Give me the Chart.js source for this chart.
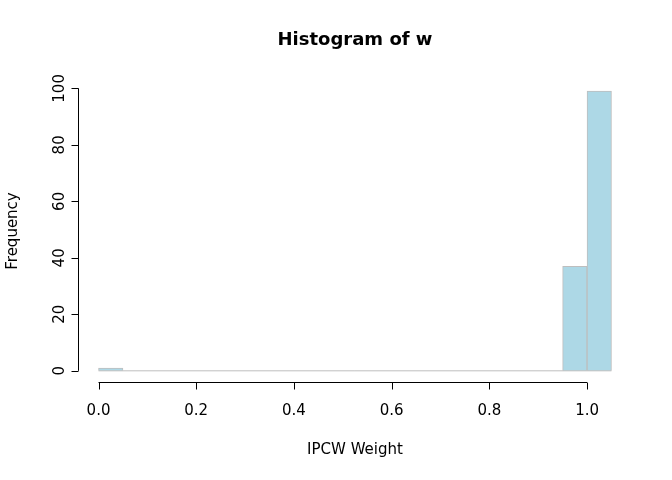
<!DOCTYPE html>
<html><head><meta charset="utf-8">
<script src="https://cdn.jsdelivr.net/npm/chart.js@4"></script>
<style>html,body{margin:0;padding:0;background:#fff}</style>
</head><body>
<div style="width:672px;height:480px"><canvas id="c"></canvas></div>
<script>
const binStarts = [0.00,0.05,0.10,0.15,0.20,0.25,0.30,0.35,0.40,0.45,0.50,0.55,0.60,0.65,0.70,0.75,0.80,0.85,0.90,0.95,1.00];
const counts    = [1,0,0,0,0,0,0,0,0,0,0,0,0,0,0,0,0,0,0,37,99];
const binWidth = 0.05;
const xTicks = [0,0.2,0.4,0.6,0.8,1.0];
const xTickLabels = ["0.0","0.2","0.4","0.6","0.8","1.0"];
const yTicks = [0,20,40,60,80,100];
const FONT = '"DejaVu Sans", sans-serif';

const barData = binStarts.map((s,i)=>({x:s+binWidth/2,y:counts[i]}));
const zeroLine = [{x:binStarts[0],y:0},{x:binStarts[binStarts.length-1]+binWidth,y:0}];

const rAxes = {
  id:'rAxes',
  afterDraw(chart){
    const ctx=chart.ctx, xs=chart.scales.x, ys=chart.scales.y, a=chart.chartArea;
    ctx.save();
    ctx.strokeStyle='#000'; ctx.fillStyle='#000'; ctx.lineWidth=1;
    // x axis
    const yb=a.bottom+0.5;
    ctx.beginPath();
    ctx.moveTo(xs.getPixelForValue(xTicks[0]),yb);
    ctx.lineTo(xs.getPixelForValue(xTicks[xTicks.length-1]),yb);
    xTicks.forEach(t=>{const p=Math.round(xs.getPixelForValue(t))+0.5;ctx.moveTo(p,yb);ctx.lineTo(p,yb+7);});
    ctx.stroke();
    ctx.font='15px '+FONT; ctx.textAlign='center'; ctx.textBaseline='middle';
    xTicks.forEach((t,i)=>ctx.fillText(xTickLabels[i],xs.getPixelForValue(t),411));
    // y axis
    const xl=a.left+0.5;
    ctx.beginPath();
    ctx.moveTo(xl,ys.getPixelForValue(yTicks[0]));
    ctx.lineTo(xl,ys.getPixelForValue(yTicks[yTicks.length-1]));
    yTicks.forEach(t=>{const p=Math.round(ys.getPixelForValue(t))+0.5;ctx.moveTo(xl,p);ctx.lineTo(xl-7,p);});
    ctx.stroke();
    yTicks.forEach(t=>{ctx.save();ctx.translate(60,ys.getPixelForValue(t));ctx.rotate(-Math.PI/2);ctx.fillText(String(t),0,0);ctx.restore();});
    // titles
    ctx.fillText('IPCW Weight',(a.left+a.right)/2,450);
    ctx.save();ctx.translate(13,(a.top+a.bottom)/2);ctx.rotate(-Math.PI/2);ctx.fillText('Frequency',0,0);ctx.restore();
    ctx.font='bold 18px '+FONT;
    ctx.fillText('Histogram of w',(a.left+a.right)/2,40);
    ctx.restore();
  }
};

new Chart(document.getElementById('c'),{
  type:'bar',
  data:{datasets:[
    {type:'line',data:zeroLine,borderColor:'#bebebe',borderWidth:1,pointRadius:0,order:0},
    {data:barData,backgroundColor:'#ADD8E6',borderColor:'#bebebe',borderWidth:1,barPercentage:1,categoryPercentage:1,order:1}
  ]},
  options:{
    responsive:true,maintainAspectRatio:false,animation:false,
    layout:{padding:{left:78,right:40,top:80,bottom:98}},
    plugins:{legend:{display:false},tooltip:{enabled:false},title:{display:false}},
    scales:{
      x:{type:'linear',display:false,min:-0.042,max:1.092,offset:false},
      y:{type:'linear',display:false,min:-3.96,max:102.96}
    }
  },
  plugins:[rAxes]
});
</script>
</body></html>
